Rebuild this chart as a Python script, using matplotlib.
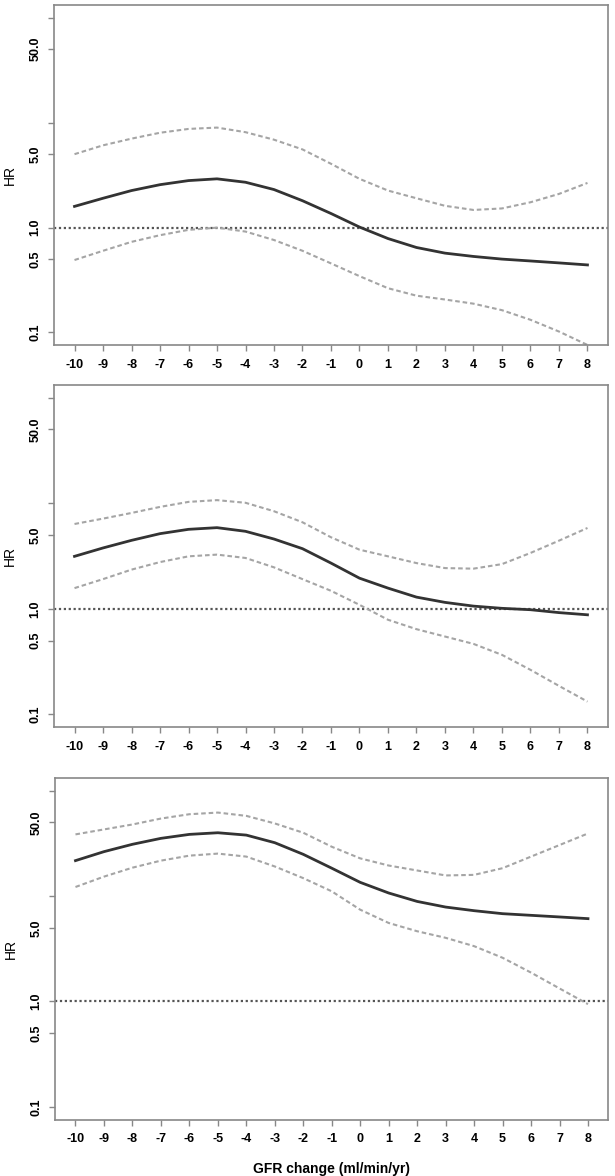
import numpy as np
from matplotlib import pyplot as plt

plt.rcParams['font.family'] = ['Liberation Sans', 'DejaVu Sans']

# GFR change, ml/min/yr
gfr = [-10, -9, -8, -7, -6, -5, -4, -3, -2, -1, 0, 1, 2, 3, 4, 5, 6, 7, 8]

# panel 1
hr1 = [1.59, 1.90, 2.25, 2.56, 2.80, 2.91, 2.70, 2.30, 1.80, 1.36, 1.01,
       0.785, 0.645, 0.57, 0.53, 0.50, 0.48, 0.46, 0.44]
up1 = [5.0, 6.07, 7.03, 8.0, 8.7, 8.96, 8.1, 6.87, 5.55, 4.05, 2.91,
       2.25, 1.90, 1.61, 1.47, 1.52, 1.74, 2.09, 2.66]
lo1 = [0.49, 0.60, 0.73, 0.845, 0.95, 0.997, 0.915, 0.76, 0.60, 0.455, 0.344,
       0.264, 0.224, 0.206, 0.188, 0.163, 0.132, 0.102, 0.076]

# panel 2
hr2 = [3.14, 3.77, 4.45, 5.15, 5.66, 5.87, 5.42, 4.58, 3.71, 2.71, 1.95,
       1.57, 1.29, 1.15, 1.06, 1.01, 0.98, 0.92, 0.877]
up2 = [6.36, 7.15, 8.09, 9.23, 10.3, 10.7, 10.1, 8.4, 6.6, 4.76, 3.63,
       3.14, 2.71, 2.43, 2.40, 2.65, 3.38, 4.42, 5.83]
lo2 = [1.57, 1.91, 2.35, 2.77, 3.14, 3.26, 3.03, 2.47, 1.91, 1.48, 1.09,
       0.787, 0.641, 0.546, 0.465, 0.366, 0.264, 0.186, 0.132]

# panel 3
hr3 = [21.7, 26.4, 31.0, 35.3, 38.5, 39.9, 37.9, 32.1, 24.9, 18.4, 13.5,
       10.7, 8.9, 7.87, 7.27, 6.81, 6.57, 6.34, 6.11]
up3 = [38.5, 42.9, 47.8, 54.4, 59.8, 62.0, 57.7, 48.9, 39.9, 29.4, 22.8,
       19.5, 17.5, 15.7, 15.9, 18.4, 23.7, 30.5, 39.3]
lo3 = [12.2, 15.3, 18.6, 21.7, 24.2, 25.3, 23.7, 19.1, 14.8, 11.1, 7.43,
       5.56, 4.64, 4.02, 3.35, 2.60, 1.88, 1.33, 0.944]

yticks = [0.1, 0.5, 1.0, 5.0, 10, 50.0, 100]
ylabels = ['0.1', '0.5', '1.0', '5.0', '', '50.0', '']

panels = [(hr1, up1, lo1), (hr2, up2, lo2), (hr3, up3, lo3)]
# axes boxes [left, bottom, width, height] in figure fractions
boxes = [[0.0878, 0.7066, 0.9008, 0.2891],
         [0.0878, 0.3818, 0.9008, 0.2908],
         [0.0894, 0.0480, 0.9000, 0.2904]]

fig = plt.figure(figsize=(6.15, 11.76), dpi=100)

for (hr, up, lo), box in zip(panels, boxes):
    ax = fig.add_axes(box)
    ax.set_yscale('log')
    # reference line at HR = 1
    ax.axhline(1.0, color='#555555', lw=1.6, ls=(0, (1, 1.2)), zorder=1)
    # confidence band
    ax.plot(gfr, up, color='#a5a5a5', lw=1.5, ls=(0, (2.2, 1.4)), zorder=2)
    ax.plot(gfr, lo, color='#a5a5a5', lw=1.5, ls=(0, (2.2, 1.4)), zorder=2)
    ax.plot(gfr, hr, color='#333333', lw=2.0, zorder=3)

    ax.set_xlim(-10.72, 8.72)
    ax.set_ylim(10 ** -1.12, 10 ** 2.12)
    ax.set_xticks(gfr)
    ax.set_xticklabels([str(v) for v in gfr], fontsize=9, fontweight='bold')
    ax.set_yticks(yticks)
    ax.set_yticklabels(ylabels, fontsize=9, fontweight='bold',
                       rotation=90, va='center')
    ax.minorticks_off()
    ax.tick_params(axis='both', direction='out', length=4, width=1,
                   color='#888888')
    ax.tick_params(axis='x', pad=6)
    ax.tick_params(axis='y', pad=5)
    for sp in ax.spines.values():
        sp.set_color('#888888')
        sp.set_linewidth(1.2)
    ax.set_ylabel('HR', fontsize=10, labelpad=9)

ax.set_xlabel('GFR change (ml/min/yr)', fontsize=10, fontweight='bold',
              labelpad=12)

fig.savefig('out.png', dpi=100)
